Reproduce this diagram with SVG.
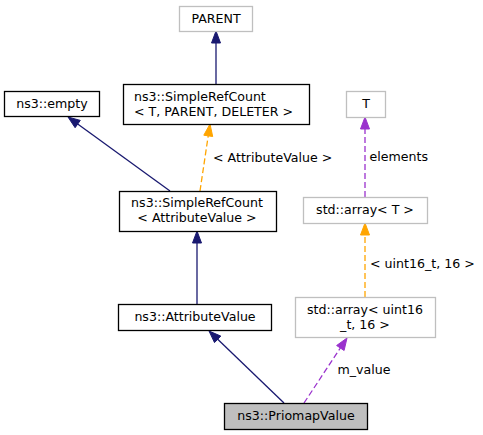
<svg xmlns="http://www.w3.org/2000/svg" width="483" height="435" viewBox="0 0 483 435">
<style>
text{font-family:"DejaVu Sans","Liberation Sans",sans-serif;font-size:12.6px;fill:#000}
.c{text-anchor:middle}
.n rect{fill:#fff;stroke:#000;stroke-width:1.3}
.n.g rect{stroke:#bfbfbf}
.n.f rect{fill:#bfbfbf}
.blue line{stroke:#191970;stroke-width:1.3}
.blue polygon{fill:#191970;stroke:#191970}
.or line{stroke:#ffa500;stroke-width:1.3;stroke-dasharray:6,3}
.or polygon{fill:#ffa500;stroke:#ffa500}
.pu line{stroke:#9a32cd;stroke-width:1.3;stroke-dasharray:6,3}
.pu polygon{fill:#9a32cd;stroke:#9a32cd}
</style>
<rect width="483" height="435" fill="#fff"/>
<g id="connectors">
<g class="blue"><line x1="216" y1="84" x2="216" y2="43"/><polygon points="216,31 220.5,43 211.5,43"/></g>
<g class="blue"><line x1="170" y1="191" x2="77.7" y2="124"/><polygon points="68,117 80.3,120.4 75.1,127.7"/></g>
<g class="or"><line x1="200" y1="191" x2="208.2" y2="135.9"/><polygon points="210,124 212.7,136.5 203.8,135.2"/></g>
<text x="213" y="161.5">&lt; AttributeValue &gt;</text>
<g class="blue"><line x1="197" y1="304" x2="197" y2="243"/><polygon points="197,231 201.5,243 192.5,243"/></g>
<g class="blue"><line x1="284" y1="403" x2="217.7" y2="339.3"/><polygon points="209,331 220.8,336.1 214.5,342.6"/></g>
<g class="pu"><line x1="304" y1="403" x2="340.4" y2="348"/><polygon points="347,338 344.1,350.5 336.6,345.5"/></g>
<text x="337.5" y="373.5">m_value</text>
<g class="or"><line x1="365" y1="297" x2="365" y2="235"/><polygon points="365,223 369.5,235 360.5,235"/></g>
<text x="370" y="267.5">&lt; uint16_t, 16 &gt;</text>
<g class="pu"><line x1="365" y1="197" x2="365" y2="129"/><polygon points="365,117 369.5,129 360.5,129"/></g>
<text x="369.5" y="161">elements</text>
</g>
<g id="node-parent" class="n g"><rect x="179.5" y="6.5" width="73" height="25"/><text class="c" x="216" y="22.5">PARENT</text></g>
<g id="node-simplerefcount-t" class="n"><rect x="123.5" y="84.5" width="186" height="40"/><text x="134" y="100.5">ns3::SimpleRefCount</text><text x="134" y="115.5">&lt; T, PARENT, DELETER &gt;</text></g>
<g id="node-empty" class="n"><rect x="4.5" y="91.5" width="95" height="25"/><text class="c" x="52" y="107.5">ns3::empty</text></g>
<g id="node-simplerefcount-av" class="n"><rect x="119.5" y="191.5" width="157" height="40"/><text class="c" x="197" y="207">ns3::SimpleRefCount</text><text class="c" x="197" y="222">&lt; AttributeValue &gt;</text></g>
<g id="node-attributevalue" class="n"><rect x="118.5" y="304.5" width="153" height="26"/><text class="c" x="195" y="321">ns3::AttributeValue</text></g>
<g id="node-priomapvalue" class="n f"><rect x="224.5" y="403.5" width="143" height="26"/><text class="c" x="296" y="420">ns3::PriomapValue</text></g>
<g id="node-array-uint16" class="n g"><rect x="295.5" y="297.5" width="140" height="40"/><text class="c" x="365" y="313.5">std::array&lt; uint16</text><text class="c" x="365" y="328.5">_t, 16 &gt;</text></g>
<g id="node-array-t" class="n g"><rect x="303.5" y="197.5" width="124" height="26"/><text class="c" x="365" y="214">std::array&lt; T &gt;</text></g>
<g id="node-t" class="n g"><rect x="346.5" y="91.5" width="39" height="26"/><text class="c" x="366" y="108">T</text></g>
</svg>
